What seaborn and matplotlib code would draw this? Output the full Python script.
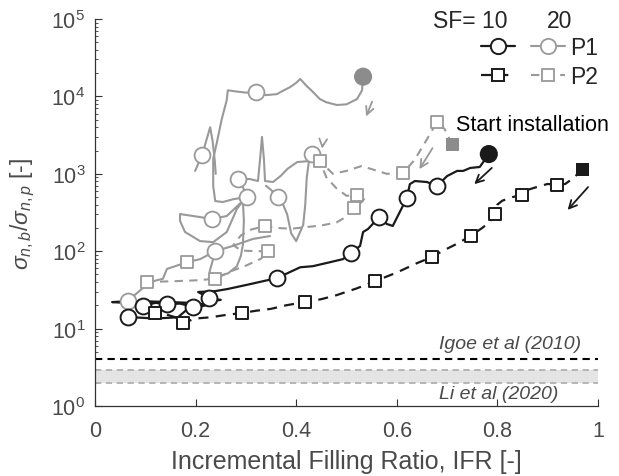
import numpy as np
import pandas as pd
import seaborn as sns
import matplotlib.pyplot as plt
from matplotlib.lines import Line2D

# ---- data (IFR, sigma ratio) ----
# SF=10, P1 (black solid)
b1_x = [0.783, 0.765, 0.746, 0.732, 0.72, 0.70, 0.68, 0.66, 0.636, 0.626, 0.62, 0.606, 0.592, 0.58,
        0.565, 0.543, 0.533, 0.527, 0.509, 0.493, 0.467, 0.433, 0.408, 0.362, 0.312, 0.264, 0.239,
        0.205, 0.227, 0.25, 0.23, 0.195, 0.17, 0.143, 0.12, 0.095, 0.06, 0.034, 0.05, 0.10, 0.15,
        0.19, 0.22, 0.18, 0.165, 0.12, 0.066]
b1_y = [1800, 1225, 1190, 1090, 1090, 935, 695, 783, 807, 735, 485, 321, 212, 225, 276, 194, 177,
        117, 95, 79, 72, 64, 62, 45, 38, 32.5, 30.5, 29.7, 24.8, 23.5, 22.5, 19, 21, 20.8, 21.5,
        19.6, 21.5, 22, 22.3, 22.5, 22, 21.5, 20, 17, 14, 13.5, 14.1]
b1_mx = [0.68, 0.62, 0.565, 0.509, 0.362, 0.227, 0.195, 0.143, 0.095, 0.066]
b1_my = [695, 485, 276, 95, 45, 24.8, 19, 20.8, 19.6, 14.1]

# SF=10, P2 (black dashed)
b2_x = [0.97, 0.96, 0.95, 0.935, 0.918, 0.90, 0.88, 0.86, 0.849, 0.83, 0.81, 0.80, 0.795, 0.785,
        0.77, 0.747, 0.72, 0.69, 0.67, 0.64, 0.60, 0.557, 0.52, 0.48, 0.45, 0.417, 0.38, 0.35,
        0.32, 0.292, 0.26, 0.23, 0.20, 0.175, 0.16, 0.13, 0.12]
b2_y = [1150, 1000, 870, 740, 716, 740, 680, 620, 535, 500, 450, 400, 302, 240, 200, 158, 125,
        100, 84, 70, 53, 41, 33, 27, 24, 22, 20, 18, 17, 15.9, 15, 14, 13.5, 11.8, 14, 16, 15.9]
b2_mx = [0.918, 0.849, 0.795, 0.747, 0.67, 0.557, 0.417, 0.292, 0.175, 0.12]
b2_my = [716, 535, 302, 158, 84, 41, 22, 15.9, 11.8, 15.9]

# SF=20, P1 (grey solid), several traced pieces
g1_x = [0.533, 0.531, 0.521, 0.50, 0.481, 0.46, 0.447, 0.43, 0.421, 0.408, 0.40, 0.388, 0.37,
        0.362, 0.34, 0.32, 0.30, 0.28, 0.264, 0.262, 0.252, 0.242, 0.235, 0.235, 0.239, 0.254,
        0.275, 0.302, 0.295, 0.284, 0.308, 0.324, 0.328, 0.332, 0.336, 0.338, 0.354, 0.37,
        0.382, 0.402, 0.427, 0.431]
g1_y = [18000, 12000, 9250, 7900, 7750, 8400, 9250, 12000, 13600, 16800, 15000, 13200, 11500,
        10700, 10400, 11400, 11200, 11600, 12000, 9000, 5100, 2500, 1560, 695, 445, 432, 470,
        501, 650, 856, 856, 807, 1500, 3000, 1500, 807, 783, 950, 1150, 1420, 1460, 1800]
g2_x = [0.199, 0.213, 0.222, 0.229, 0.234, 0.238, 0.24]
g2_y = [1090, 1750, 2800, 4000, 2600, 1500, 1000]
g3_x = [0.431, 0.425, 0.421, 0.418, 0.414, 0.40, 0.39, 0.382, 0.372, 0.364, 0.35, 0.34]
g3_y = [1800, 1400, 900, 400, 220, 135, 170, 300, 430, 500, 620, 700]
g4_x = [0.302, 0.262, 0.233, 0.195, 0.169, 0.169, 0.179, 0.209, 0.235, 0.262, 0.282, 0.294,
        0.296, 0.294, 0.29, 0.282, 0.265, 0.249, 0.232, 0.228, 0.235, 0.239]
g4_y = [501, 285, 261, 285, 302, 246, 177, 135, 131, 177, 351, 445, 250, 120, 87, 64, 52, 48,
        40, 55, 80, 100]
g5_x = [0.348, 0.314, 0.274, 0.239, 0.209, 0.183, 0.143, 0.135, 0.109, 0.066]
g5_y = [157, 144, 117, 100, 79, 72, 59, 44, 40, 23]
g_mx = [0.066, 0.239, 0.233, 0.302, 0.284, 0.364, 0.213, 0.431, 0.32]
g_my = [23, 100, 261, 501, 856, 500, 1750, 1800, 11400]

# SF=20, P2 (grey dashed)
gd_x = [0.71, 0.695, 0.68, 0.66, 0.635, 0.612, 0.58, 0.55, 0.53, 0.50, 0.473, 0.455, 0.447,
        0.46, 0.48, 0.50, 0.521, 0.54, 0.53, 0.515, 0.50, 0.48, 0.45, 0.42, 0.39, 0.36, 0.338,
        0.31, 0.29, 0.275, 0.29, 0.32, 0.344, 0.33, 0.30, 0.27, 0.239, 0.20, 0.16, 0.103]
gd_y = [2400, 3800, 4670, 2800, 1500, 1025, 1000, 1150, 1260, 1090, 1000, 1300, 1460, 900,
        650, 520, 532, 520, 430, 361, 280, 235, 215, 205, 195, 200, 212, 190, 160, 120, 102,
        100, 100, 80, 65, 55, 44, 42, 41, 40]
gd_mx = [0.68, 0.612, 0.447, 0.521, 0.515, 0.338, 0.344, 0.239, 0.183, 0.103]
gd_my = [4670, 1025, 1460, 532, 361, 212, 100, 44, 72, 40]

# start of installation (filled markers)
start_x = [0.783, 0.97, 0.533, 0.71]
start_y = [1800, 1150, 18000, 2400]

# reference values
igoe = 4.0
li_low, li_high = 2.0, 2.9

BLK = '#1a1a1a'
GRY = '#999999'
GRYF = '#8c8c8c'
TXT = '#4a4a4a'

sns.set_style('ticks')
plt.rcParams['font.family'] = ['Liberation Sans', 'DejaVu Sans']
plt.rcParams['mathtext.fontset'] = 'custom'
plt.rcParams['mathtext.rm'] = 'Liberation Sans'
plt.rcParams['mathtext.it'] = 'Liberation Sans:italic'

fig = plt.figure(figsize=(6.19, 4.77), dpi=100)
ax = fig.add_axes([0.1535, 0.1468, 0.8125, 0.8112])

dash_b = (0, (4.5, 3.3))
dash_g = (0, (4.0, 3.0))

# grey curves first (they sit behind the black ones)
grey = pd.concat([
    pd.DataFrame({'x': g1_x, 'y': g1_y, 'seg': 1}),
    pd.DataFrame({'x': g2_x, 'y': g2_y, 'seg': 2}),
    pd.DataFrame({'x': g3_x, 'y': g3_y, 'seg': 3}),
    pd.DataFrame({'x': g4_x, 'y': g4_y, 'seg': 4}),
    pd.DataFrame({'x': g5_x, 'y': g5_y, 'seg': 5}),
])
sns.lineplot(data=grey, x='x', y='y', units='seg', estimator=None, sort=False,
             color=GRY, lw=1.5, ax=ax)
sns.lineplot(x=gd_x, y=gd_y, estimator=None, sort=False, color=GRY, lw=1.5,
             linestyle=dash_g, ax=ax)
sns.lineplot(x=b1_x, y=b1_y, estimator=None, sort=False, color=BLK, lw=1.6, ax=ax)
sns.lineplot(x=b2_x, y=b2_y, estimator=None, sort=False, color=BLK, lw=1.6,
             linestyle=dash_b, ax=ax)

sns.scatterplot(x=g_mx, y=g_my, marker='o', s=130, facecolor='white', edgecolor=GRY,
                linewidth=1.3, zorder=3, ax=ax)
sns.scatterplot(x=gd_mx, y=gd_my, marker='s', s=75, facecolor='white', edgecolor=GRY,
                linewidth=1.3, zorder=3, ax=ax)
sns.scatterplot(x=b1_mx, y=b1_my, marker='o', s=130, facecolor='white', edgecolor=BLK,
                linewidth=1.4, zorder=4, ax=ax)
sns.scatterplot(x=b2_mx, y=b2_my, marker='s', s=75, facecolor='white', edgecolor=BLK,
                linewidth=1.4, zorder=4, ax=ax)
sns.scatterplot(x=start_x, y=start_y, marker='o', s=[170, 0, 170, 0],
                color=[BLK, BLK, GRYF, GRYF], edgecolor='none', zorder=5, ax=ax)
sns.scatterplot(x=start_x, y=start_y, marker='s', s=[0, 90, 0, 90],
                color=[BLK, BLK, GRYF, GRYF], edgecolor='none', zorder=5, ax=ax)

# arrows pointing along the installation direction
arrows = [((0.553, 9250), (0.537, 5100), GRY),
          ((0.674, 2300), (0.642, 1070), GRY),
          ((0.453, 2570), (0.451, 1950), GRY),
          ((0.793, 1260), (0.75, 695), BLK),
          ((0.984, 716), (0.936, 321), BLK)]
for (x0, y0), (x1, y1), c in arrows:
    ax.annotate('', xy=(x1, y1), xytext=(x0, y0),
                arrowprops=dict(arrowstyle='->', color=c, lw=1.3, mutation_scale=14))

# reference lines
ax.axhline(igoe, color='black', lw=1.5, ls=(0, (3.5, 2.5)), zorder=1)
ax.fill_between([0, 1], li_low, li_high, color='#e4e4e4', lw=0, zorder=0)
ax.axhline(li_low, color='#b0b0b0', lw=1.3, ls=(0, (3.5, 2.5)), zorder=1)
ax.axhline(li_high, color='#b0b0b0', lw=1.3, ls=(0, (3.5, 2.5)), zorder=1)
ax.text(0.683, 6.5, 'Igoe et al (2010)', style='italic', fontsize=14, color=TXT,
        ha='left', va='center')
ax.text(0.683, 1.43, 'Li et al (2020)', style='italic', fontsize=14, color=TXT,
        ha='left', va='center')
ax.text(0.717, 4300, 'Start installation', fontsize=15.5, color='black', ha='left', va='center')

ax.set_yscale('log')
ax.set_xlim(0, 1)
ax.set_ylim(1, 1e5)
ax.set_xticks([0, 0.2, 0.4, 0.6, 0.8, 1.0])
ax.set_xticklabels(['0', '0.2', '0.4', '0.6', '0.8', '1'])
ax.tick_params(axis='both', which='major', direction='in', length=5, width=0.8,
               labelsize=15.5, labelcolor=TXT, color='#333333')
ax.tick_params(axis='x', which='major', pad=10)
ax.tick_params(axis='y', which='major', pad=7)
ax.tick_params(axis='y', which='minor', direction='in', length=2.5, width=0.6, color='#333333')
ax.set_xlabel('Incremental Filling Ratio, IFR [-]', fontsize=18, color=TXT, labelpad=6)
ax.set_ylabel(r'$\sigma_{n,b}/\sigma_{n,p}$ [-]', fontsize=16.5, color=TXT, labelpad=10)
for s in ['left', 'bottom']:
    ax.spines[s].set_color('#333333')
    ax.spines[s].set_linewidth(0.9)
sns.despine(ax=ax)

# legend: SF header as text, line samples as legend handles
ax.text(0.672, 0.995, 'SF= 10', transform=ax.transAxes, fontsize=16.5, ha='left', va='center')
ax.text(0.899, 0.995, '20', transform=ax.transAxes, fontsize=16.5, ha='left', va='center')
h_b1 = Line2D([], [], color=BLK, lw=1.6, marker='o', ms=11, mfc='white', mec=BLK, mew=1.4)
h_b2 = Line2D([], [], color=BLK, lw=1.6, ls=dash_b, marker='s', ms=8.5, mfc='white', mec=BLK, mew=1.4)
h_g1 = Line2D([], [], color=GRY, lw=1.5, marker='o', ms=11, mfc='white', mec=GRY, mew=1.3)
h_g2 = Line2D([], [], color=GRY, lw=1.5, ls=dash_g, marker='s', ms=8.5, mfc='white', mec=GRY, mew=1.3)
leg = ax.legend([h_b1, h_b2, h_g1, h_g2], ['', '', 'P1', 'P2'], ncol=2,
                loc='upper right', bbox_to_anchor=(1.0, 0.955), frameon=False,
                fontsize=16.5, borderpad=0, borderaxespad=0,
                handlelength=1.5, handletextpad=0.2, columnspacing=0.5, labelspacing=0.25)

fig.savefig('out.png', dpi=100)
